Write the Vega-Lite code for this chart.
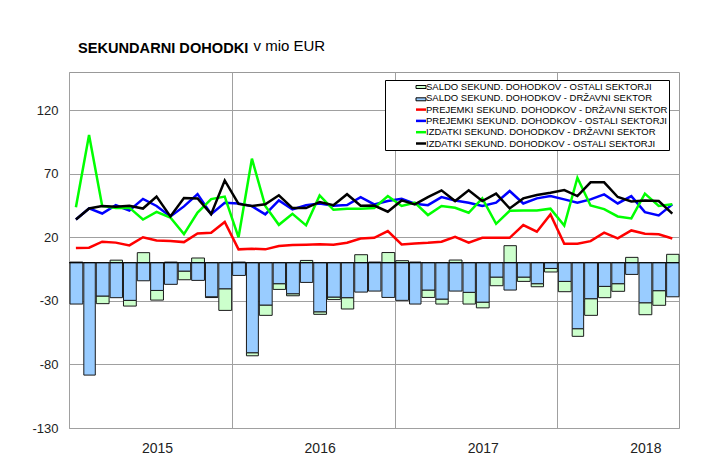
{
  "$schema": "https://vega.github.io/schema/vega-lite/v6.json",
  "width": 610,
  "height": 356,
  "autosize": {"type": "none"},
  "padding": {"left": 69, "top": 72, "right": 36, "bottom": 47},
  "background": "#ffffff",
  "title": {
    "text": "SEKUNDARNI DOHODKI",
    "anchor": "start",
    "frame": "group",
    "dx": 9,
    "dy": 26,
    "offset": 8,
    "font": "Liberation Sans",
    "fontSize": 14.6,
    "fontWeight": "bold",
    "color": "#000000"
  },
  "config": {
    "view": {"stroke": "#999999", "strokeWidth": 1},
    "axis": {"labelFont": "Liberation Sans", "labelColor": "#222222", "gridColor": "#a0a0a0", "gridWidth": 1, "gridOpacity": 1}
  },
  "data": {
    "values": [
      {"m": "2015-01", "saldo_ost": 0.5, "saldo_drz": -32.5, "prej_drz": 11.5, "prej_ost": 34, "izd_drz": 43.7, "izd_ost": 34},
      {"m": "2015-02", "saldo_ost": 0, "saldo_drz": -88.4, "prej_drz": 11.8, "prej_ost": 42.7, "izd_drz": 100.5, "izd_ost": 42.7},
      {"m": "2015-03", "saldo_ost": -6, "saldo_drz": -26.2, "prej_drz": 16.5, "prej_ost": 38.7, "izd_drz": 44.6, "izd_ost": 44.6},
      {"m": "2015-04", "saldo_ost": 2, "saldo_drz": -27.5, "prej_drz": 15.8, "prej_ost": 45.2, "izd_drz": 43, "izd_ost": 44},
      {"m": "2015-05", "saldo_ost": -4.5, "saldo_drz": -29.6, "prej_drz": 13.6, "prej_ost": 41.1, "izd_drz": 43.3, "izd_ost": 44.8},
      {"m": "2015-06", "saldo_ost": 7.9, "saldo_drz": -14.2, "prej_drz": 20, "prej_ost": 50.2, "izd_drz": 34, "izd_ost": 42.6},
      {"m": "2015-07", "saldo_ost": -7.6, "saldo_drz": -21.8, "prej_drz": 17.5, "prej_ost": 44.6, "izd_drz": 40, "izd_ost": 52},
      {"m": "2015-08", "saldo_ost": 0.5, "saldo_drz": -17, "prej_drz": 17, "prej_ost": 36.4, "izd_drz": 35.5, "izd_ost": 36.4},
      {"m": "2015-09", "saldo_ost": -6.8, "saldo_drz": -6.6, "prej_drz": 16.2, "prej_ost": 44.3, "izd_drz": 22.5, "izd_ost": 50.9},
      {"m": "2015-10", "saldo_ost": 3.7, "saldo_drz": -13.9, "prej_drz": 23, "prej_ost": 54, "izd_drz": 39.5, "izd_ost": 50.6},
      {"m": "2015-11", "saldo_ost": -0.6, "saldo_drz": -26.8, "prej_drz": 23.6, "prej_ost": 38.2, "izd_drz": 50, "izd_ost": 38.2},
      {"m": "2015-12", "saldo_ost": -17, "saldo_drz": -20.5, "prej_drz": 32, "prej_ost": 47.2, "izd_drz": 52, "izd_ost": 64.7},
      {"m": "2016-01", "saldo_ost": 0.5, "saldo_drz": -10, "prej_drz": 10.5, "prej_ost": 46.6, "izd_drz": 20, "izd_ost": 46.2},
      {"m": "2016-02", "saldo_ost": -2.4, "saldo_drz": -70.8, "prej_drz": 11, "prej_ost": 44.5, "izd_drz": 81.8, "izd_ost": 44.6},
      {"m": "2016-03", "saldo_ost": -8.1, "saldo_drz": -33.3, "prej_drz": 10.5, "prej_ost": 38, "izd_drz": 44.6, "izd_ost": 45.9},
      {"m": "2016-04", "saldo_ost": -4.5, "saldo_drz": -16.5, "prej_drz": 13.1, "prej_ost": 49, "izd_drz": 29.8, "izd_ost": 53},
      {"m": "2016-05", "saldo_ost": -1.6, "saldo_drz": -24.4, "prej_drz": 14, "prej_ost": 41.9, "izd_drz": 38.5, "izd_ost": 43},
      {"m": "2016-06", "saldo_ost": 1.8, "saldo_drz": -15.5, "prej_drz": 14.2, "prej_ost": 45.2, "izd_drz": 29.4, "izd_ost": 43},
      {"m": "2016-07", "saldo_ost": -2, "saldo_drz": -38.6, "prej_drz": 14.6, "prej_ost": 46.6, "izd_drz": 52.9, "izd_ost": 47.8},
      {"m": "2016-08", "saldo_ost": -2, "saldo_drz": -27, "prej_drz": 14.2, "prej_ost": 44.8, "izd_drz": 41.6, "izd_ost": 45.2},
      {"m": "2016-09", "saldo_ost": -8.9, "saldo_drz": -27.5, "prej_drz": 15.7, "prej_ost": 45.3, "izd_drz": 42.5, "izd_ost": 53.9},
      {"m": "2016-10", "saldo_ost": 6.3, "saldo_drz": -23.1, "prej_drz": 19, "prej_ost": 51.5, "izd_drz": 42.5, "izd_ost": 44.8},
      {"m": "2016-11", "saldo_ost": 0.5, "saldo_drz": -22.3, "prej_drz": 19.6, "prej_ost": 45.9, "izd_drz": 43, "izd_ost": 45},
      {"m": "2016-12", "saldo_ost": 8, "saldo_drz": -27.3, "prej_drz": 24.9, "prej_ost": 48.5, "izd_drz": 52.4, "izd_ost": 40.1},
      {"m": "2017-01", "saldo_ost": 1.6, "saldo_drz": -29.6, "prej_drz": 14.4, "prej_ost": 50.3, "izd_drz": 44.6, "izd_ost": 49},
      {"m": "2017-02", "saldo_ost": 0.5, "saldo_drz": -32.5, "prej_drz": 15.2, "prej_ost": 46.4, "izd_drz": 47.2, "izd_ost": 45.9},
      {"m": "2017-03", "saldo_ost": -5.8, "saldo_drz": -21.5, "prej_drz": 15.7, "prej_ost": 45.3, "izd_drz": 37.5, "izd_ost": 51.6},
      {"m": "2017-04", "saldo_ost": -3.9, "saldo_drz": -28.6, "prej_drz": 16.5, "prej_ost": 51.6, "izd_drz": 44.6, "izd_ost": 56.9},
      {"m": "2017-05", "saldo_ost": 2.1, "saldo_drz": -22.3, "prej_drz": 20.4, "prej_ost": 49, "izd_drz": 43.2, "izd_ost": 48.5},
      {"m": "2017-06", "saldo_ost": -9.2, "saldo_drz": -23.3, "prej_drz": 15.7, "prej_ost": 47.2, "izd_drz": 39.3, "izd_ost": 56.9},
      {"m": "2017-07", "saldo_ost": -4.5, "saldo_drz": -31, "prej_drz": 19.6, "prej_ost": 44.6, "izd_drz": 50.6, "izd_ost": 48.5},
      {"m": "2017-08", "saldo_ost": -6.8, "saldo_drz": -11.3, "prej_drz": 19.6, "prej_ost": 47.2, "izd_drz": 30.6, "izd_ost": 54.3},
      {"m": "2017-09", "saldo_ost": 13.4, "saldo_drz": -21.5, "prej_drz": 19.6, "prej_ost": 56.4, "izd_drz": 40.8, "izd_ost": 42.7},
      {"m": "2017-10", "saldo_ost": -3.4, "saldo_drz": -11.3, "prej_drz": 29.6, "prej_ost": 46.6, "izd_drz": 41, "izd_ost": 50.6},
      {"m": "2017-11", "saldo_ost": -2.4, "saldo_drz": -16.5, "prej_drz": 24.4, "prej_ost": 50.6, "izd_drz": 41, "izd_ost": 53.2},
      {"m": "2017-12", "saldo_ost": -2.8, "saldo_drz": -4.5, "prej_drz": 38, "prej_ost": 52.4, "izd_drz": 42.5, "izd_ost": 55},
      {"m": "2018-01", "saldo_ost": -8.1, "saldo_drz": -14.7, "prej_drz": 14.9, "prej_ost": 49.8, "izd_drz": 29.2, "izd_ost": 57.1},
      {"m": "2018-02", "saldo_ost": -6, "saldo_drz": -51.9, "prej_drz": 14.9, "prej_ost": 47.2, "izd_drz": 66.8, "izd_ost": 52.4},
      {"m": "2018-03", "saldo_ost": -13.1, "saldo_drz": -28.3, "prej_drz": 17, "prej_ost": 49.8, "izd_drz": 45, "izd_ost": 63.2},
      {"m": "2018-04", "saldo_ost": -8.9, "saldo_drz": -18.6, "prej_drz": 23.6, "prej_ost": 53.7, "izd_drz": 42.2, "izd_ost": 63.2},
      {"m": "2018-05", "saldo_ost": -6, "saldo_drz": -16.5, "prej_drz": 19.1, "prej_ost": 46.6, "izd_drz": 36.4, "izd_ost": 51.7},
      {"m": "2018-06", "saldo_ost": 4.2, "saldo_drz": -9.2, "prej_drz": 25.4, "prej_ost": 52.4, "izd_drz": 34.8, "izd_ost": 48.2},
      {"m": "2018-07", "saldo_ost": -9.4, "saldo_drz": -31.5, "prej_drz": 22.8, "prej_ost": 39.8, "izd_drz": 54.3, "izd_ost": 49},
      {"m": "2018-08", "saldo_ost": -11.5, "saldo_drz": -22, "prej_drz": 22.3, "prej_ost": 37.2, "izd_drz": 44.6, "izd_ost": 48.5},
      {"m": "2018-09", "saldo_ost": 6.6, "saldo_drz": -26.8, "prej_drz": 19.1, "prej_ost": 45.9, "izd_drz": 46, "izd_ost": 38.6}
    ]
  },
  "transform": [
    {"fold": ["saldo_ost", "saldo_drz", "prej_drz", "prej_ost", "izd_drz", "izd_ost"], "as": ["key", "value"]}
  ],
  "layer": [
    {
      "transform": [{"filter": "indexof(datum.key, 'saldo') == 0"}],
      "mark": {"type": "bar", "stroke": "#1a1a1a", "strokeWidth": 1, "timeUnitBandSize": 0.7},
      "encoding": {
        "x": {
          "field": "m", "type": "temporal", "timeUnit": "utcyearmonth",
          "scale": {"type": "utc", "nice": false, "domain": [1420070400000, 1538352000000]},
          "axis": {
            "title": null,
            "values": [1420070400000, 1451606400000, 1483228800000, 1514764800000],
            "format": "%Y",
            "grid": true,
            "ticks": false,
            "tickSize": 0,
            "domain": false,
            "labelOffset": 88,
            "labelPadding": 13,
            "labelFontSize": 14,
            "labelFlush": false,
            "labelOverlap": false,
            "labelBound": false,
            "labelAlign": "center"
          }
        },
        "y": {
          "field": "value", "type": "quantitative", "stack": "zero",
          "scale": {"domain": [-130, 150], "nice": false, "zero": false},
          "axis": {
            "values": [-130, -80, -30, 20, 70, 120],
            "labelExpr": "'' + datum.value",
            "grid": true,
            "ticks": false,
            "tickSize": 0,
            "domain": false,
            "labelPadding": 11,
            "labelFontSize": 13,
            "title": "v mio EUR",
            "titleAngle": 0,
            "titleAlign": "left",
            "titleBaseline": "alphabetic",
            "titleX": 184,
            "titleY": -22,
            "titleFont": "Liberation Sans",
            "titleFontSize": 15,
            "titleFontWeight": "normal",
            "titleColor": "#000000"
          }
        },
        "fill": {
          "field": "key", "type": "nominal",
          "scale": {"domain": ["saldo_ost", "saldo_drz"], "range": ["#ccffcc", "#99ccff"]},
          "legend": {
            "title": null,
            "orient": "none",
            "legendX": 316,
            "legendY": 8,
            "padding": 1,
            "zindex": 2,
            "labelExpr": "''",
            "labelFontSize": 12,
            "symbolType": "M-1.11,-0.33H1.11V0.33H-1.11Z",
            "symbolSize": 81,
            "symbolOffset": 29,
            "symbolStrokeColor": "#000000",
            "symbolStrokeWidth": 1,
            "symbolOpacity": 1,
            "rowPadding": 0.3
          }
        },
        "order": {"field": "key", "sort": "ascending"}
      }
    },
    {
      "data": {"values": [{"zero": 0}]},
      "mark": {"type": "rule", "color": "#000000", "strokeWidth": 1},
      "encoding": {"y": {"field": "zero", "type": "quantitative"}}
    },
    {
      "transform": [{"filter": "indexof(datum.key, 'saldo') != 0"}],
      "mark": {"type": "line", "strokeWidth": 2.5},
      "encoding": {
        "x": {"field": "m", "type": "temporal", "timeUnit": "utcyearmonth", "bandPosition": 0.5},
        "y": {"field": "value", "type": "quantitative"},
        "stroke": {
          "field": "key", "type": "nominal",
          "scale": {"domain": ["saldo_ost", "saldo_drz", "prej_drz", "prej_ost", "izd_drz", "izd_ost"], "range": ["transparent", "transparent", "#ff0000", "#0000ff", "#00ff00", "#000000"]},
          "legend": {
            "title": null,
            "orient": "none",
            "legendX": 316,
            "legendY": 8,
            "padding": 1,
            "zindex": 1,
            "strokeColor": "#000000",
            "fillColor": "#ffffff",
            "labelFont": "Liberation Sans",
            "labelFontSize": 9.5,
            "labelColor": "#000000",
            "labelLimit": 400,
            "labelOffset": -1,
            "rowPadding": 0.3,
            "symbolType": "M-1.11,0H1.11",
            "symbolSize": 81,
            "symbolOffset": 29,
            "symbolStrokeWidth": 2.5,
            "labelExpr": "datum.value == 'saldo_ost' ? 'SALDO SEKUND. DOHODKOV - OSTALI SEKTORJI' : datum.value == 'saldo_drz' ? 'SALDO SEKUND. DOHODKOV - DRŽAVNI SEKTOR' : datum.value == 'prej_drz' ? 'PREJEMKI SEKUND. DOHODKOV - DRŽAVNI SEKTOR' : datum.value == 'prej_ost' ? 'PREJEMKI SEKUND. DOHODKOV - OSTALI SEKTORJI' : datum.value == 'izd_drz' ? 'IZDATKI SEKUND. DOHODKOV - DRŽAVNI SEKTOR' : 'IZDATKI SEKUND. DOHODKOV - OSTALI SEKTORJI'"
          }
        }
      }
    }
  ]
}
